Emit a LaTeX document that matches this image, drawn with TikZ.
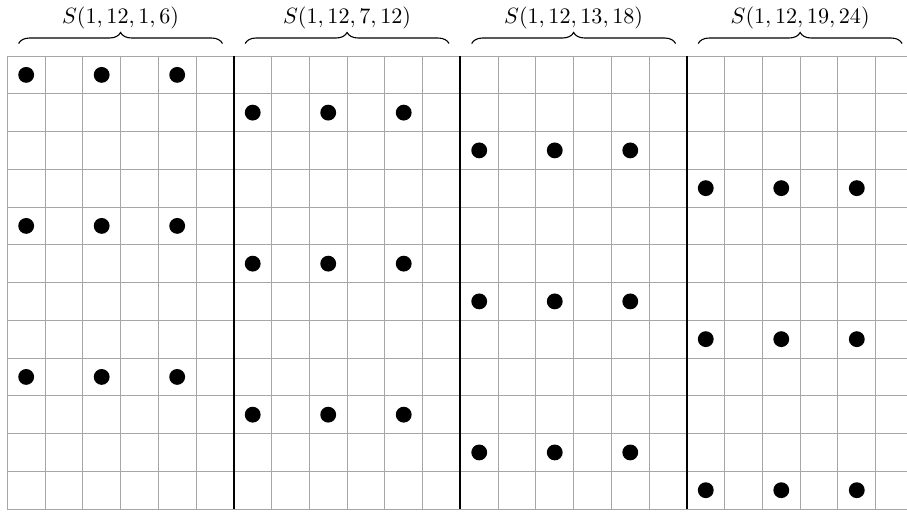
\documentclass[tikz,border=0pt]{standalone}
\usetikzlibrary{decorations.pathreplacing}
\begin{document}
\begin{tikzpicture}[x=0.6cm,y=0.6cm,
  gridline/.style={draw=black!35,line width=0.4pt},
  blockline/.style={draw=black,line width=0.9pt},
  dotmark/.style={fill=black},
  bracemark/.style={decorate,decoration={brace,amplitude=5pt},line width=0.5pt},
  label/.style={anchor=base,inner sep=0pt}]
\useasboundingbox (-0.193,-12.07) rectangle (23.83,1.483);
\draw[gridline,step=1] (0,0) grid (24,-12);
\foreach \k in {1,2,3}{
  \draw[blockline] (6*\k,0) -- (6*\k,-12);
}
\foreach \k/\a/\b in {0/1/6,1/7/12,2/13/18,3/19/24}{
  \draw[bracemark] (6*\k+0.3,0.33) -- (6*\k+5.7,0.33);
  \node[label] (lab\k) at (6*\k+3,0.87) {$S(1,12,\a,\b)$};
  \foreach \r in {0,4,8}{
    \foreach \c in {0,2,4}{
      \fill[dotmark] (6*\k+\c+0.5,-\k-\r-0.5) circle (0.21);
    }
  }
}
\end{tikzpicture}
\end{document}
